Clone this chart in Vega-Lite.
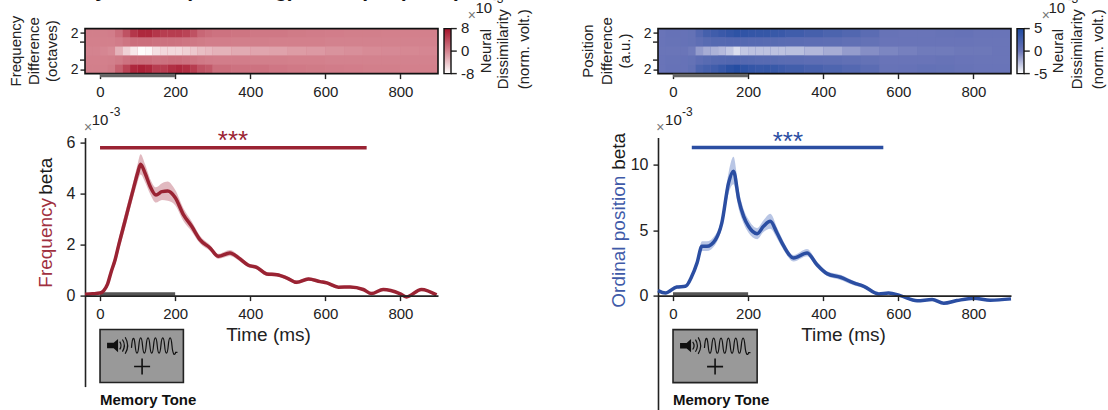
{"$schema":"https://vega.github.io/schema/vega-lite/v6.json","background":"white","padding":{"left":8,"top":-20.4,"right":0,"bottom":0},"columns":2,"spacing":{"row":64,"column":220},"bounds":"flush","resolve":{"scale":{"color":"independent","x":"independent","y":"independent"}},"config":{"font":"Liberation Sans","view":{"stroke":null},"text":{"font":"Liberation Sans"},"axis":{"grid":false,"domainColor":"#222","domainWidth":1.6,"tickColor":"#222","tickWidth":1.4,"tickSize":5,"labelColor":"#222","titleColor":"#222","labelFontSize":15,"titleFontWeight":"normal","labelFont":"Liberation Sans","titleFont":"Liberation Sans"},"legend":{"labelFont":"Liberation Sans"}},
"datasets":{
"heatL":[
{"t":-40,"u":-20,"a":1.5,"b":2.5,"v":0.3},{"t":-20,"u":0,"a":1.5,"b":2.5,"v":0.3},{"t":0,"u":20,"a":1.5,"b":2.5,"v":0.3},{"t":20,"u":40,"a":1.5,"b":2.5,"v":0.4},{"t":40,"u":60,"a":1.5,"b":2.5,"v":1.5},{"t":60,"u":80,"a":1.5,"b":2.5,"v":3.5},{"t":80,"u":100,"a":1.5,"b":2.5,"v":5.5},{"t":100,"u":120,"a":1.5,"b":2.5,"v":6.5},{"t":120,"u":140,"a":1.5,"b":2.5,"v":6.5},{"t":140,"u":160,"a":1.5,"b":2.5,"v":5.5},{"t":160,"u":180,"a":1.5,"b":2.5,"v":5},{"t":180,"u":200,"a":1.5,"b":2.5,"v":5},{"t":200,"u":220,"a":1.5,"b":2.5,"v":5},{"t":220,"u":240,"a":1.5,"b":2.5,"v":4.5},{"t":240,"u":260,"a":1.5,"b":2.5,"v":3.5},{"t":260,"u":280,"a":1.5,"b":2.5,"v":2},{"t":280,"u":300,"a":1.5,"b":2.5,"v":1.5},{"t":300,"u":350,"a":1.5,"b":2.5,"v":1.2},{"t":350,"u":400,"a":1.5,"b":2.5,"v":1},{"t":400,"u":450,"a":1.5,"b":2.5,"v":0.8},{"t":450,"u":500,"a":1.5,"b":2.5,"v":0.8},{"t":500,"u":550,"a":1.5,"b":2.5,"v":0.6},{"t":550,"u":600,"a":1.5,"b":2.5,"v":0.5},{"t":600,"u":650,"a":1.5,"b":2.5,"v":0.4},{"t":650,"u":700,"a":1.5,"b":2.5,"v":0.3},{"t":700,"u":750,"a":1.5,"b":2.5,"v":0.3},{"t":750,"u":800,"a":1.5,"b":2.5,"v":0.2},{"t":800,"u":850,"a":1.5,"b":2.5,"v":0.2},{"t":850,"u":900,"a":1.5,"b":2.5,"v":0.2},
{"t":-40,"u":-20,"a":0.5,"b":1.5,"v":0.2},{"t":-20,"u":0,"a":0.5,"b":1.5,"v":0.2},{"t":0,"u":20,"a":0.5,"b":1.5,"v":0.2},{"t":20,"u":40,"a":0.5,"b":1.5,"v":0.2},{"t":40,"u":60,"a":0.5,"b":1.5,"v":0.5},{"t":60,"u":80,"a":0.5,"b":1.5,"v":1},{"t":80,"u":100,"a":0.5,"b":1.5,"v":1.5},{"t":100,"u":120,"a":0.5,"b":1.5,"v":1.5},{"t":120,"u":140,"a":0.5,"b":1.5,"v":1.5},{"t":140,"u":160,"a":0.5,"b":1.5,"v":1.3},{"t":160,"u":180,"a":0.5,"b":1.5,"v":1.3},{"t":180,"u":200,"a":0.5,"b":1.5,"v":1.3},{"t":200,"u":220,"a":0.5,"b":1.5,"v":1.2},{"t":220,"u":240,"a":0.5,"b":1.5,"v":1},{"t":240,"u":260,"a":0.5,"b":1.5,"v":0.8},{"t":260,"u":280,"a":0.5,"b":1.5,"v":0.6},{"t":280,"u":300,"a":0.5,"b":1.5,"v":0.4},{"t":300,"u":350,"a":0.5,"b":1.5,"v":0.4},{"t":350,"u":400,"a":0.5,"b":1.5,"v":0.3},{"t":400,"u":450,"a":0.5,"b":1.5,"v":0.3},{"t":450,"u":500,"a":0.5,"b":1.5,"v":0.2},{"t":500,"u":550,"a":0.5,"b":1.5,"v":0.2},{"t":550,"u":600,"a":0.5,"b":1.5,"v":0.2},{"t":600,"u":650,"a":0.5,"b":1.5,"v":0.1},{"t":650,"u":700,"a":0.5,"b":1.5,"v":0.1},{"t":700,"u":750,"a":0.5,"b":1.5,"v":0.1},{"t":750,"u":800,"a":0.5,"b":1.5,"v":0.1},{"t":800,"u":850,"a":0.5,"b":1.5,"v":0.1},{"t":850,"u":900,"a":0.5,"b":1.5,"v":0.1},
{"t":-40,"u":-20,"a":-0.5,"b":0.5,"v":0},{"t":-20,"u":0,"a":-0.5,"b":0.5,"v":0},{"t":0,"u":20,"a":-0.5,"b":0.5,"v":-0.2},{"t":20,"u":40,"a":-0.5,"b":0.5,"v":-0.5},{"t":40,"u":60,"a":-0.5,"b":0.5,"v":-3},{"t":60,"u":80,"a":-0.5,"b":0.5,"v":-5},{"t":80,"u":100,"a":-0.5,"b":0.5,"v":-6.5},{"t":100,"u":120,"a":-0.5,"b":0.5,"v":-7.8},{"t":120,"u":140,"a":-0.5,"b":0.5,"v":-7.5},{"t":140,"u":160,"a":-0.5,"b":0.5,"v":-6},{"t":160,"u":180,"a":-0.5,"b":0.5,"v":-5.5},{"t":180,"u":200,"a":-0.5,"b":0.5,"v":-5.5},{"t":200,"u":220,"a":-0.5,"b":0.5,"v":-5.5},{"t":220,"u":240,"a":-0.5,"b":0.5,"v":-5},{"t":240,"u":260,"a":-0.5,"b":0.5,"v":-4.5},{"t":260,"u":280,"a":-0.5,"b":0.5,"v":-3.8},{"t":280,"u":300,"a":-0.5,"b":0.5,"v":-3.5},{"t":300,"u":350,"a":-0.5,"b":0.5,"v":-3},{"t":350,"u":400,"a":-0.5,"b":0.5,"v":-2.5},{"t":400,"u":450,"a":-0.5,"b":0.5,"v":-2.2},{"t":450,"u":500,"a":-0.5,"b":0.5,"v":-2},{"t":500,"u":550,"a":-0.5,"b":0.5,"v":-1.6},{"t":550,"u":600,"a":-0.5,"b":0.5,"v":-1.4},{"t":600,"u":650,"a":-0.5,"b":0.5,"v":-1},{"t":650,"u":700,"a":-0.5,"b":0.5,"v":-0.8},{"t":700,"u":750,"a":-0.5,"b":0.5,"v":-0.5},{"t":750,"u":800,"a":-0.5,"b":0.5,"v":-0.4},{"t":800,"u":850,"a":-0.5,"b":0.5,"v":-0.3},{"t":850,"u":900,"a":-0.5,"b":0.5,"v":-0.2},
{"t":-40,"u":-20,"a":-1.5,"b":-0.5,"v":0.2},{"t":-20,"u":0,"a":-1.5,"b":-0.5,"v":0.2},{"t":0,"u":20,"a":-1.5,"b":-0.5,"v":0.2},{"t":20,"u":40,"a":-1.5,"b":-0.5,"v":0.3},{"t":40,"u":60,"a":-1.5,"b":-0.5,"v":0.6},{"t":60,"u":80,"a":-1.5,"b":-0.5,"v":1.2},{"t":80,"u":100,"a":-1.5,"b":-0.5,"v":1.6},{"t":100,"u":120,"a":-1.5,"b":-0.5,"v":1.6},{"t":120,"u":140,"a":-1.5,"b":-0.5,"v":1.5},{"t":140,"u":160,"a":-1.5,"b":-0.5,"v":1.2},{"t":160,"u":180,"a":-1.5,"b":-0.5,"v":1.3},{"t":180,"u":200,"a":-1.5,"b":-0.5,"v":1.5},{"t":200,"u":220,"a":-1.5,"b":-0.5,"v":1.5},{"t":220,"u":240,"a":-1.5,"b":-0.5,"v":1.3},{"t":240,"u":260,"a":-1.5,"b":-0.5,"v":1},{"t":260,"u":280,"a":-1.5,"b":-0.5,"v":0.7},{"t":280,"u":300,"a":-1.5,"b":-0.5,"v":0.5},{"t":300,"u":350,"a":-1.5,"b":-0.5,"v":0.4},{"t":350,"u":400,"a":-1.5,"b":-0.5,"v":0.4},{"t":400,"u":450,"a":-1.5,"b":-0.5,"v":0.3},{"t":450,"u":500,"a":-1.5,"b":-0.5,"v":0.3},{"t":500,"u":550,"a":-1.5,"b":-0.5,"v":0.2},{"t":550,"u":600,"a":-1.5,"b":-0.5,"v":0.2},{"t":600,"u":650,"a":-1.5,"b":-0.5,"v":0.1},{"t":650,"u":700,"a":-1.5,"b":-0.5,"v":0.1},{"t":700,"u":750,"a":-1.5,"b":-0.5,"v":0.1},{"t":750,"u":800,"a":-1.5,"b":-0.5,"v":0.1},{"t":800,"u":850,"a":-1.5,"b":-0.5,"v":0.1},{"t":850,"u":900,"a":-1.5,"b":-0.5,"v":0.1},
{"t":-40,"u":-20,"a":-2.5,"b":-1.5,"v":0.3},{"t":-20,"u":0,"a":-2.5,"b":-1.5,"v":0.3},{"t":0,"u":20,"a":-2.5,"b":-1.5,"v":0.3},{"t":20,"u":40,"a":-2.5,"b":-1.5,"v":0.6},{"t":40,"u":60,"a":-2.5,"b":-1.5,"v":2.5},{"t":60,"u":80,"a":-2.5,"b":-1.5,"v":4.5},{"t":80,"u":100,"a":-2.5,"b":-1.5,"v":6.5},{"t":100,"u":120,"a":-2.5,"b":-1.5,"v":7},{"t":120,"u":140,"a":-2.5,"b":-1.5,"v":6.5},{"t":140,"u":160,"a":-2.5,"b":-1.5,"v":5},{"t":160,"u":180,"a":-2.5,"b":-1.5,"v":5},{"t":180,"u":200,"a":-2.5,"b":-1.5,"v":6},{"t":200,"u":220,"a":-2.5,"b":-1.5,"v":6.5},{"t":220,"u":240,"a":-2.5,"b":-1.5,"v":6},{"t":240,"u":260,"a":-2.5,"b":-1.5,"v":5},{"t":260,"u":280,"a":-2.5,"b":-1.5,"v":3.5},{"t":280,"u":300,"a":-2.5,"b":-1.5,"v":3},{"t":300,"u":350,"a":-2.5,"b":-1.5,"v":1.5},{"t":350,"u":400,"a":-2.5,"b":-1.5,"v":1.2},{"t":400,"u":450,"a":-2.5,"b":-1.5,"v":1.2},{"t":450,"u":500,"a":-2.5,"b":-1.5,"v":0.9},{"t":500,"u":550,"a":-2.5,"b":-1.5,"v":0.7},{"t":550,"u":600,"a":-2.5,"b":-1.5,"v":0.6},{"t":600,"u":650,"a":-2.5,"b":-1.5,"v":0.5},{"t":650,"u":700,"a":-2.5,"b":-1.5,"v":0.4},{"t":700,"u":750,"a":-2.5,"b":-1.5,"v":0.3},{"t":750,"u":800,"a":-2.5,"b":-1.5,"v":0.3},{"t":800,"u":850,"a":-2.5,"b":-1.5,"v":0.2},{"t":850,"u":900,"a":-2.5,"b":-1.5,"v":0.2}
],
"heatR":[
{"t":-40,"u":-20,"a":1.5,"b":2.5,"v":0.1},{"t":-20,"u":0,"a":1.5,"b":2.5,"v":0.3},{"t":0,"u":20,"a":1.5,"b":2.5,"v":0.3},{"t":20,"u":40,"a":1.5,"b":2.5,"v":0.3},{"t":40,"u":60,"a":1.5,"b":2.5,"v":0.4},{"t":60,"u":80,"a":1.5,"b":2.5,"v":1.5},{"t":80,"u":100,"a":1.5,"b":2.5,"v":2.5},{"t":100,"u":120,"a":1.5,"b":2.5,"v":2.8},{"t":120,"u":140,"a":1.5,"b":2.5,"v":3.2},{"t":140,"u":160,"a":1.5,"b":2.5,"v":3.6},{"t":160,"u":180,"a":1.5,"b":2.5,"v":4},{"t":180,"u":200,"a":1.5,"b":2.5,"v":3.8},{"t":200,"u":220,"a":1.5,"b":2.5,"v":3.6},{"t":220,"u":240,"a":1.5,"b":2.5,"v":3.5},{"t":240,"u":260,"a":1.5,"b":2.5,"v":3.5},{"t":260,"u":280,"a":1.5,"b":2.5,"v":3.3},{"t":280,"u":300,"a":1.5,"b":2.5,"v":3.2},{"t":300,"u":350,"a":1.5,"b":2.5,"v":2.8},{"t":350,"u":400,"a":1.5,"b":2.5,"v":2.4},{"t":400,"u":450,"a":1.5,"b":2.5,"v":2},{"t":450,"u":500,"a":1.5,"b":2.5,"v":1.6},{"t":500,"u":550,"a":1.5,"b":2.5,"v":1},{"t":550,"u":600,"a":1.5,"b":2.5,"v":0.2},{"t":600,"u":650,"a":1.5,"b":2.5,"v":0.1},{"t":650,"u":700,"a":1.5,"b":2.5,"v":0.1},{"t":700,"u":750,"a":1.5,"b":2.5,"v":0.2},{"t":750,"u":800,"a":1.5,"b":2.5,"v":0.3},{"t":800,"u":850,"a":1.5,"b":2.5,"v":0.1},{"t":850,"u":900,"a":1.5,"b":2.5,"v":0.1},
{"t":-40,"u":-20,"a":0.5,"b":1.5,"v":0.1},{"t":-20,"u":0,"a":0.5,"b":1.5,"v":0.2},{"t":0,"u":20,"a":0.5,"b":1.5,"v":0.2},{"t":20,"u":40,"a":0.5,"b":1.5,"v":0.3},{"t":40,"u":60,"a":0.5,"b":1.5,"v":0.4},{"t":60,"u":80,"a":0.5,"b":1.5,"v":0.8},{"t":80,"u":100,"a":0.5,"b":1.5,"v":1.2},{"t":100,"u":120,"a":0.5,"b":1.5,"v":1.4},{"t":120,"u":140,"a":0.5,"b":1.5,"v":1.4},{"t":140,"u":160,"a":0.5,"b":1.5,"v":1.5},{"t":160,"u":180,"a":0.5,"b":1.5,"v":1.5},{"t":180,"u":200,"a":0.5,"b":1.5,"v":1.4},{"t":200,"u":220,"a":0.5,"b":1.5,"v":1.3},{"t":220,"u":240,"a":0.5,"b":1.5,"v":1.3},{"t":240,"u":260,"a":0.5,"b":1.5,"v":1.2},{"t":260,"u":280,"a":0.5,"b":1.5,"v":1.2},{"t":280,"u":300,"a":0.5,"b":1.5,"v":1.1},{"t":300,"u":350,"a":0.5,"b":1.5,"v":1},{"t":350,"u":400,"a":0.5,"b":1.5,"v":0.9},{"t":400,"u":450,"a":0.5,"b":1.5,"v":0.8},{"t":450,"u":500,"a":0.5,"b":1.5,"v":0.6},{"t":500,"u":550,"a":0.5,"b":1.5,"v":0.4},{"t":550,"u":600,"a":0.5,"b":1.5,"v":0.1},{"t":600,"u":650,"a":0.5,"b":1.5,"v":0.1},{"t":650,"u":700,"a":0.5,"b":1.5,"v":0.1},{"t":700,"u":750,"a":0.5,"b":1.5,"v":0.1},{"t":750,"u":800,"a":0.5,"b":1.5,"v":0.1},{"t":800,"u":850,"a":0.5,"b":1.5,"v":0},{"t":850,"u":900,"a":0.5,"b":1.5,"v":0},
{"t":-40,"u":-20,"a":-0.5,"b":0.5,"v":0},{"t":-20,"u":0,"a":-0.5,"b":0.5,"v":0},{"t":0,"u":20,"a":-0.5,"b":0.5,"v":0},{"t":20,"u":40,"a":-0.5,"b":0.5,"v":0},{"t":40,"u":60,"a":-0.5,"b":0.5,"v":-0.2},{"t":60,"u":80,"a":-0.5,"b":0.5,"v":-1.4},{"t":80,"u":100,"a":-0.5,"b":0.5,"v":-2},{"t":100,"u":120,"a":-0.5,"b":0.5,"v":-2.2},{"t":120,"u":140,"a":-0.5,"b":0.5,"v":-2.5},{"t":140,"u":160,"a":-0.5,"b":0.5,"v":-3},{"t":160,"u":180,"a":-0.5,"b":0.5,"v":-3.8},{"t":180,"u":200,"a":-0.5,"b":0.5,"v":-3},{"t":200,"u":220,"a":-0.5,"b":0.5,"v":-2.8},{"t":220,"u":240,"a":-0.5,"b":0.5,"v":-2.8},{"t":240,"u":260,"a":-0.5,"b":0.5,"v":-2.8},{"t":260,"u":280,"a":-0.5,"b":0.5,"v":-2.8},{"t":280,"u":300,"a":-0.5,"b":0.5,"v":-2.8},{"t":300,"u":350,"a":-0.5,"b":0.5,"v":-2.7},{"t":350,"u":400,"a":-0.5,"b":0.5,"v":-2.4},{"t":400,"u":450,"a":-0.5,"b":0.5,"v":-2},{"t":450,"u":500,"a":-0.5,"b":0.5,"v":-1.4},{"t":500,"u":550,"a":-0.5,"b":0.5,"v":-0.9},{"t":550,"u":600,"a":-0.5,"b":0.5,"v":-0.6},{"t":600,"u":650,"a":-0.5,"b":0.5,"v":-0.4},{"t":650,"u":700,"a":-0.5,"b":0.5,"v":-0.2},{"t":700,"u":750,"a":-0.5,"b":0.5,"v":-0.2},{"t":750,"u":800,"a":-0.5,"b":0.5,"v":-0.1},{"t":800,"u":850,"a":-0.5,"b":0.5,"v":-0.1},{"t":850,"u":900,"a":-0.5,"b":0.5,"v":0},
{"t":-40,"u":-20,"a":-1.5,"b":-0.5,"v":0.1},{"t":-20,"u":0,"a":-1.5,"b":-0.5,"v":0.2},{"t":0,"u":20,"a":-1.5,"b":-0.5,"v":0.2},{"t":20,"u":40,"a":-1.5,"b":-0.5,"v":0.3},{"t":40,"u":60,"a":-1.5,"b":-0.5,"v":0.4},{"t":60,"u":80,"a":-1.5,"b":-0.5,"v":0.9},{"t":80,"u":100,"a":-1.5,"b":-0.5,"v":1.2},{"t":100,"u":120,"a":-1.5,"b":-0.5,"v":1.4},{"t":120,"u":140,"a":-1.5,"b":-0.5,"v":1.5},{"t":140,"u":160,"a":-1.5,"b":-0.5,"v":1.6},{"t":160,"u":180,"a":-1.5,"b":-0.5,"v":1.7},{"t":180,"u":200,"a":-1.5,"b":-0.5,"v":1.5},{"t":200,"u":220,"a":-1.5,"b":-0.5,"v":1.4},{"t":220,"u":240,"a":-1.5,"b":-0.5,"v":1.3},{"t":240,"u":260,"a":-1.5,"b":-0.5,"v":1.3},{"t":260,"u":280,"a":-1.5,"b":-0.5,"v":1.2},{"t":280,"u":300,"a":-1.5,"b":-0.5,"v":1.1},{"t":300,"u":350,"a":-1.5,"b":-0.5,"v":1},{"t":350,"u":400,"a":-1.5,"b":-0.5,"v":0.9},{"t":400,"u":450,"a":-1.5,"b":-0.5,"v":0.8},{"t":450,"u":500,"a":-1.5,"b":-0.5,"v":0.6},{"t":500,"u":550,"a":-1.5,"b":-0.5,"v":0.4},{"t":550,"u":600,"a":-1.5,"b":-0.5,"v":0.1},{"t":600,"u":650,"a":-1.5,"b":-0.5,"v":0.1},{"t":650,"u":700,"a":-1.5,"b":-0.5,"v":0.1},{"t":700,"u":750,"a":-1.5,"b":-0.5,"v":0.2},{"t":750,"u":800,"a":-1.5,"b":-0.5,"v":0.1},{"t":800,"u":850,"a":-1.5,"b":-0.5,"v":0},{"t":850,"u":900,"a":-1.5,"b":-0.5,"v":0},
{"t":-40,"u":-20,"a":-2.5,"b":-1.5,"v":0.1},{"t":-20,"u":0,"a":-2.5,"b":-1.5,"v":0.3},{"t":0,"u":20,"a":-2.5,"b":-1.5,"v":0.3},{"t":20,"u":40,"a":-2.5,"b":-1.5,"v":0.3},{"t":40,"u":60,"a":-2.5,"b":-1.5,"v":0.6},{"t":60,"u":80,"a":-2.5,"b":-1.5,"v":2},{"t":80,"u":100,"a":-2.5,"b":-1.5,"v":2.5},{"t":100,"u":120,"a":-2.5,"b":-1.5,"v":2.8},{"t":120,"u":140,"a":-2.5,"b":-1.5,"v":3.4},{"t":140,"u":160,"a":-2.5,"b":-1.5,"v":4.2},{"t":160,"u":180,"a":-2.5,"b":-1.5,"v":4.6},{"t":180,"u":200,"a":-2.5,"b":-1.5,"v":4},{"t":200,"u":220,"a":-2.5,"b":-1.5,"v":3.6},{"t":220,"u":240,"a":-2.5,"b":-1.5,"v":3.4},{"t":240,"u":260,"a":-2.5,"b":-1.5,"v":3.5},{"t":260,"u":280,"a":-2.5,"b":-1.5,"v":3.3},{"t":280,"u":300,"a":-2.5,"b":-1.5,"v":3},{"t":300,"u":350,"a":-2.5,"b":-1.5,"v":2.7},{"t":350,"u":400,"a":-2.5,"b":-1.5,"v":2.3},{"t":400,"u":450,"a":-2.5,"b":-1.5,"v":1.9},{"t":450,"u":500,"a":-2.5,"b":-1.5,"v":1.5},{"t":500,"u":550,"a":-2.5,"b":-1.5,"v":1},{"t":550,"u":600,"a":-2.5,"b":-1.5,"v":0.2},{"t":600,"u":650,"a":-2.5,"b":-1.5,"v":0.3},{"t":650,"u":700,"a":-2.5,"b":-1.5,"v":0.5},{"t":700,"u":750,"a":-2.5,"b":-1.5,"v":0.4},{"t":750,"u":800,"a":-2.5,"b":-1.5,"v":0.2},{"t":800,"u":850,"a":-2.5,"b":-1.5,"v":0.1},{"t":850,"u":900,"a":-2.5,"b":-1.5,"v":0.1}
],
"lineL":[
{"t":-40,"v":0.05,"l":0.02,"h":0.08},{"t":-20,"v":0.07,"l":0.04,"h":0.1},{"t":0,"v":0.1,"l":0.05,"h":0.15},{"t":10,"v":0.2,"l":0.13,"h":0.27},{"t":20,"v":0.45,"l":0.35,"h":0.55},{"t":30,"v":0.95,"l":0.8,"h":1.1},{"t":40,"v":1.4,"l":1.2,"h":1.6},{"t":50,"v":2.0,"l":1.75,"h":2.25},{"t":66,"v":2.9,"l":2.6,"h":3.2},{"t":89,"v":4.2,"l":3.9,"h":4.5},{"t":100,"v":4.8,"l":4.45,"h":5.15},{"t":108,"v":5.15,"l":4.75,"h":5.55},{"t":120,"v":4.8,"l":4.45,"h":5.15},{"t":133,"v":4.3,"l":4.0,"h":4.6},{"t":149,"v":3.95,"l":3.65,"h":4.25},{"t":165,"v":4.08,"l":3.75,"h":4.41},{"t":180,"v":4.1,"l":3.72,"h":4.48},{"t":200,"v":3.85,"l":3.55,"h":4.15},{"t":222,"v":3.18,"l":2.93,"h":3.43},{"t":244,"v":2.72,"l":2.52,"h":2.92},{"t":266,"v":2.2,"l":2.05,"h":2.35},{"t":293,"v":1.87,"l":1.75,"h":1.99},{"t":315,"v":1.54,"l":1.44,"h":1.64},{"t":346,"v":1.67,"l":1.55,"h":1.79},{"t":369,"v":1.48,"l":1.38,"h":1.58},{"t":395,"v":1.19,"l":1.11,"h":1.27},{"t":417,"v":1.11,"l":1.03,"h":1.19},{"t":444,"v":0.85,"l":0.77,"h":0.93},{"t":471,"v":0.82,"l":0.75,"h":0.89},{"t":498,"v":0.69,"l":0.62,"h":0.76},{"t":524,"v":0.52,"l":0.45,"h":0.59},{"t":555,"v":0.65,"l":0.58,"h":0.72},{"t":586,"v":0.55,"l":0.49,"h":0.61},{"t":604,"v":0.5,"l":0.44,"h":0.56},{"t":635,"v":0.33,"l":0.28,"h":0.38},{"t":666,"v":0.34,"l":0.29,"h":0.39},{"t":701,"v":0.24,"l":0.19,"h":0.29},{"t":723,"v":0.08,"l":0.04,"h":0.12},{"t":754,"v":0.24,"l":0.2,"h":0.28},{"t":798,"v":0.08,"l":0.04,"h":0.12},{"t":816,"v":-0.05,"l":-0.09,"h":-0.01},{"t":856,"v":0.24,"l":0.2,"h":0.28},{"t":896,"v":0.03,"l":-0.01,"h":0.07}
],
"lineR":[
{"t":-40,"v":0.38,"l":0.3,"h":0.46},{"t":-20,"v":0.2,"l":0.12,"h":0.28},{"t":10,"v":0.66,"l":0.56,"h":0.76},{"t":33,"v":0.71,"l":0.6,"h":0.82},{"t":50,"v":1.47,"l":1.3,"h":1.64},{"t":64,"v":2.5,"l":2.25,"h":2.75},{"t":77,"v":3.77,"l":3.4,"h":4.14},{"t":90,"v":3.77,"l":3.4,"h":4.14},{"t":113,"v":4.27,"l":3.9,"h":4.64},{"t":130,"v":5.55,"l":5.15,"h":5.95},{"t":148,"v":8.6,"l":7.8,"h":9.4},{"t":161,"v":9.5,"l":8.5,"h":10.6},{"t":175,"v":7.33,"l":6.6,"h":8.05},{"t":188,"v":6.05,"l":5.5,"h":6.6},{"t":201,"v":5.29,"l":4.8,"h":5.8},{"t":224,"v":4.73,"l":4.3,"h":5.15},{"t":241,"v":5.29,"l":4.85,"h":5.75},{"t":259,"v":5.67,"l":5.1,"h":6.25},{"t":277,"v":4.78,"l":4.35,"h":5.2},{"t":295,"v":3.77,"l":3.45,"h":4.1},{"t":321,"v":2.87,"l":2.6,"h":3.1},{"t":357,"v":3.25,"l":3.0,"h":3.55},{"t":383,"v":2.37,"l":2.15,"h":2.6},{"t":410,"v":1.68,"l":1.5,"h":1.86},{"t":446,"v":1.4,"l":1.2,"h":1.6},{"t":481,"v":0.97,"l":0.8,"h":1.14},{"t":508,"v":0.71,"l":0.58,"h":0.84},{"t":548,"v":0.13,"l":0.03,"h":0.23},{"t":574,"v":0.2,"l":0.1,"h":0.3},{"t":605,"v":0,"l":-0.08,"h":0.08},{"t":650,"v":-0.4,"l":-0.48,"h":-0.32},{"t":690,"v":-0.3,"l":-0.38,"h":-0.22},{"t":721,"v":-0.58,"l":-0.66,"h":-0.5},{"t":756,"v":-0.38,"l":-0.46,"h":-0.3},{"t":801,"v":-0.2,"l":-0.28,"h":-0.12},{"t":845,"v":-0.35,"l":-0.43,"h":-0.27},{"t":900,"v":-0.25,"l":-0.33,"h":-0.17}
]
},
"concat":[
{"width":353,"height":45,"layer":[
{"data":{"values":[{"t":-40,"u":900,"a":-2.5,"b":2.5}]},"mark":{"type":"rect","fill":"#d4838f"},"encoding":{"x":{"field":"t","type":"quantitative","scale":{"domain":[-40,900],"nice":false,"zero":false},"axis":{"values":[0,100,200,300,400,500,600,700,800,900],"labelExpr":"datum.value%200==0?datum.label:''","title":null,"labelPadding":6,"domain":false}},"x2":{"field":"u"},"y":{"field":"a","type":"quantitative","scale":{"domain":[-2.5,2.5],"nice":false,"zero":false},"axis":{"values":[-2,0,2],"labelExpr":"abs(datum.value)==2?'2':'0'","labelOverlap":false,"labelFontSize":14,"title":["Frequency","Difference","(octaves)"],"titleFontSize":15,"titleLineHeight":18.5,"titleX":-62,"titleY":22,"domain":false,"grid":false}},"y2":{"field":"b"}}},
{"data":{"name":"heatL"},"mark":{"type":"rect"},"encoding":{"x":{"field":"t","type":"quantitative"},"x2":{"field":"u"},"y":{"field":"a","type":"quantitative"},"y2":{"field":"b"},"color":{"field":"v","type":"quantitative","scale":{"domain":[-8,0,8],"range":["#ffffff","#d4838f","#a5132a"],"interpolate":"rgb"},"legend":{"type":"gradient","orient":"none","legendX":359,"legendY":0,"title":null,"values":[],"gradientLength":45,"gradientThickness":7,"gradientStrokeColor":"#111","gradientStrokeWidth":1.4,"padding":0}}}},
{"data":{"values":[{"t":-40,"u":900,"a":-2.5,"b":2.5}]},"mark":{"type":"rect","filled":false,"stroke":"#111","strokeWidth":1.6},"encoding":{"x":{"field":"t","type":"quantitative"},"x2":{"field":"u"},"y":{"field":"a","type":"quantitative"},"y2":{"field":"b"}}},
{"data":{"values":[{"t":0,"u":200,"a":-2.72}]},"mark":{"type":"rule","stroke":"#666","strokeWidth":3.5},"encoding":{"x":{"field":"t","type":"quantitative"},"x2":{"field":"u"},"y":{"field":"a","type":"quantitative"}}},
{"data":{"values":[{"t":-53.3,"u":-40,"a":1},{"t":-53.3,"u":-40,"a":-1}]},"mark":{"type":"rule","stroke":"#222","strokeWidth":1.4},"encoding":{"x":{"field":"t","type":"quantitative"},"x2":{"field":"u"},"y":{"field":"a","type":"quantitative"}}},
{"data":{"values":[{"t":934,"u":950,"a":2.5},{"t":934,"u":950,"a":0},{"t":934,"u":950,"a":-2.5}]},"mark":{"type":"rule","stroke":"#222","strokeWidth":1.4},"encoding":{"x":{"field":"t","type":"quantitative"},"x2":{"field":"u"},"y":{"field":"a","type":"quantitative"}}},
{"data":{"values":[{"t":961,"a":2.6,"s":"8"},{"t":961,"a":0,"s":"0"},{"t":961,"a":-2.5,"s":"-8"}]},"mark":{"type":"text","align":"left","baseline":"middle","fontSize":15,"fill":"#222"},"encoding":{"x":{"field":"t","type":"quantitative"},"y":{"field":"a","type":"quantitative"},"text":{"field":"s"}}},
{"data":{"values":[{"t":1028,"a":0,"s":"Neural"},{"t":1073,"a":0.2,"s":"Dissimilarity"},{"t":1129,"a":0.2,"s":"(norm. volt.)"}]},"mark":{"type":"text","angle":270,"align":"center","baseline":"middle","fontSize":15,"fill":"#222"},"encoding":{"x":{"field":"t","type":"quantitative"},"y":{"field":"a","type":"quantitative"},"text":{"field":"s"}}},
{"data":{"values":[{"t":990,"a":3.9,"s":"×"}]},"mark":{"type":"text","fontSize":14,"fill":"#777"},"encoding":{"x":{"field":"t","type":"quantitative"},"y":{"field":"a","type":"quantitative"},"text":{"field":"s"}}},
{"data":{"values":[{"t":1022,"a":4.78,"s":"10"}]},"mark":{"type":"text","fontSize":15,"fill":"#222"},"encoding":{"x":{"field":"t","type":"quantitative"},"y":{"field":"a","type":"quantitative"},"text":{"field":"s"}}},
{"data":{"values":[{"t":1060,"a":5.8,"s":"-3"}]},"mark":{"type":"text","fontSize":12,"fill":"#222"},"encoding":{"x":{"field":"t","type":"quantitative"},"y":{"field":"a","type":"quantitative"},"text":{"field":"s"}}},
{"data":{"values":[{"t":-53,"a":6.0,"s":"Dynamics (Encoding), Example (Tone)"}]},"mark":{"type":"text","fontSize":21,"fontWeight":"bold","align":"left","baseline":"alphabetic","fill":"#111"},"encoding":{"x":{"field":"t","type":"quantitative"},"y":{"field":"a","type":"quantitative"},"text":{"field":"s"}}}
]},
{"width":353,"height":45,"layer":[
{"data":{"values":[{"t":-40,"u":900,"a":-2.5,"b":2.5}]},"mark":{"type":"rect","fill":"#6a75b8"},"encoding":{"x":{"field":"t","type":"quantitative","scale":{"domain":[-40,900],"nice":false,"zero":false},"axis":{"values":[0,100,200,300,400,500,600,700,800,900],"labelExpr":"datum.value%200==0?datum.label:''","title":null,"labelPadding":6,"domain":false}},"x2":{"field":"u"},"y":{"field":"a","type":"quantitative","scale":{"domain":[-2.5,2.5],"nice":false,"zero":false},"axis":{"values":[-2,0,2],"labelExpr":"abs(datum.value)==2?'2':'0'","labelOverlap":false,"labelFontSize":14,"title":["Position","Difference","(a.u.)"],"titleFontSize":15,"titleLineHeight":18.5,"titleX":-62,"titleY":22,"domain":false,"grid":false}},"y2":{"field":"b"}}},
{"data":{"name":"heatR"},"mark":{"type":"rect"},"encoding":{"x":{"field":"t","type":"quantitative"},"x2":{"field":"u"},"y":{"field":"a","type":"quantitative"},"y2":{"field":"b"},"color":{"field":"v","type":"quantitative","scale":{"domain":[-5,0,5],"range":["#ffffff","#6a75b8","#1f4aa0"],"interpolate":"rgb"},"legend":{"type":"gradient","orient":"none","legendX":359,"legendY":0,"title":null,"values":[],"gradientLength":45,"gradientThickness":7,"gradientStrokeColor":"#111","gradientStrokeWidth":1.4,"padding":0}}}},
{"data":{"values":[{"t":-40,"u":900,"a":-2.5,"b":2.5}]},"mark":{"type":"rect","filled":false,"stroke":"#111","strokeWidth":1.6},"encoding":{"x":{"field":"t","type":"quantitative"},"x2":{"field":"u"},"y":{"field":"a","type":"quantitative"},"y2":{"field":"b"}}},
{"data":{"values":[{"t":0,"u":200,"a":-2.72}]},"mark":{"type":"rule","stroke":"#666","strokeWidth":3.5},"encoding":{"x":{"field":"t","type":"quantitative"},"x2":{"field":"u"},"y":{"field":"a","type":"quantitative"}}},
{"data":{"values":[{"t":-53.3,"u":-40,"a":1},{"t":-53.3,"u":-40,"a":-1}]},"mark":{"type":"rule","stroke":"#222","strokeWidth":1.4},"encoding":{"x":{"field":"t","type":"quantitative"},"x2":{"field":"u"},"y":{"field":"a","type":"quantitative"}}},
{"data":{"values":[{"t":934,"u":950,"a":2.5},{"t":934,"u":950,"a":0},{"t":934,"u":950,"a":-2.5}]},"mark":{"type":"rule","stroke":"#222","strokeWidth":1.4},"encoding":{"x":{"field":"t","type":"quantitative"},"x2":{"field":"u"},"y":{"field":"a","type":"quantitative"}}},
{"data":{"values":[{"t":961,"a":2.6,"s":"5"},{"t":961,"a":0,"s":"0"},{"t":961,"a":-2.5,"s":"-5"}]},"mark":{"type":"text","align":"left","baseline":"middle","fontSize":15,"fill":"#222"},"encoding":{"x":{"field":"t","type":"quantitative"},"y":{"field":"a","type":"quantitative"},"text":{"field":"s"}}},
{"data":{"values":[{"t":1025,"a":0,"s":"Neural"},{"t":1076,"a":0.2,"s":"Dissimilarity"},{"t":1132,"a":0.2,"s":"(norm. volt.)"}]},"mark":{"type":"text","angle":270,"align":"center","baseline":"middle","fontSize":15,"fill":"#222"},"encoding":{"x":{"field":"t","type":"quantitative"},"y":{"field":"a","type":"quantitative"},"text":{"field":"s"}}},
{"data":{"values":[{"t":993,"a":3.9,"s":"×"}]},"mark":{"type":"text","fontSize":14,"fill":"#777"},"encoding":{"x":{"field":"t","type":"quantitative"},"y":{"field":"a","type":"quantitative"},"text":{"field":"s"}}},
{"data":{"values":[{"t":1022,"a":4.78,"s":"10"}]},"mark":{"type":"text","fontSize":15,"fill":"#222"},"encoding":{"x":{"field":"t","type":"quantitative"},"y":{"field":"a","type":"quantitative"},"text":{"field":"s"}}},
{"data":{"values":[{"t":1065,"a":5.8,"s":"-3"}]},"mark":{"type":"text","fontSize":12,"fill":"#222"},"encoding":{"x":{"field":"t","type":"quantitative"},"y":{"field":"a","type":"quantitative"},"text":{"field":"s"}}}
]},
{"width":353,"height":249,"layer":[
{"data":{"values":[{"t":0,"u":222,"a":-1.33,"b":-3.41}]},"mark":{"type":"rect","fill":"#999999","stroke":"#222","strokeWidth":1.6},"encoding":{"x":{"field":"t","type":"quantitative","scale":{"domain":[-40,900],"nice":false,"zero":false},"axis":{"values":[0,100,200,300,400,500,600,700,800,900],"labelExpr":"datum.value%200==0?datum.label:''","title":"Time (ms)","titleFontSize":19,"titleX":183,"titlePadding":4,"labelPadding":6,"offset":-91,"zindex":1}},"x2":{"field":"u"},"y":{"field":"a","type":"quantitative","scale":{"domain":[-3.57,6.2],"nice":false,"zero":false},"axis":{"values":[0,2,4,6],"title":null,"labelPadding":5,"labelFontSize":16}},"y2":{"field":"b"}}},
{"data":{"name":"lineL"},"mark":{"type":"area","fill":"#c9808c","opacity":0.55,"interpolate":"monotone"},"encoding":{"x":{"field":"t","type":"quantitative"},"y":{"field":"l","type":"quantitative"},"y2":{"field":"h"}}},
{"data":{"values":[{"t":0,"u":200,"a":0.06}]},"mark":{"type":"rule","stroke":"#555","strokeWidth":3.5},"encoding":{"x":{"field":"t","type":"quantitative"},"x2":{"field":"u"},"y":{"field":"a","type":"quantitative"}}},
{"data":{"name":"lineL"},"mark":{"type":"line","stroke":"#9a2333","strokeWidth":3.5,"interpolate":"monotone"},"encoding":{"x":{"field":"t","type":"quantitative"},"y":{"field":"v","type":"quantitative"}}},
{"data":{"values":[{"t":0,"u":710,"a":5.8}]},"mark":{"type":"rule","stroke":"#9a2333","strokeWidth":3.5},"encoding":{"x":{"field":"t","type":"quantitative"},"x2":{"field":"u"},"y":{"field":"a","type":"quantitative"}}},
{"data":{"values":[{"t":354,"a":6.05,"s":"***"}]},"mark":{"type":"text","fontSize":26,"fill":"#9a2333"},"encoding":{"x":{"field":"t","type":"quantitative"},"y":{"field":"a","type":"quantitative"},"text":{"field":"s"}}},
{"data":{"values":[{"t":-144,"a":0.31,"s":"Frequency"}]},"mark":{"type":"text","angle":270,"align":"left","baseline":"middle","fontSize":19,"fill":"#a03040"},"encoding":{"x":{"field":"t","type":"quantitative"},"y":{"field":"a","type":"quantitative"},"text":{"field":"s"}}},
{"data":{"values":[{"t":-144,"a":3.96,"s":"beta"}]},"mark":{"type":"text","angle":270,"align":"left","baseline":"middle","fontSize":19,"fill":"#1a1a1a"},"encoding":{"x":{"field":"t","type":"quantitative"},"y":{"field":"a","type":"quantitative"},"text":{"field":"s"}}},
{"data":{"values":[{"t":-32,"a":6.59,"s":"×"}]},"mark":{"type":"text","fontSize":14,"fill":"#777"},"encoding":{"x":{"field":"t","type":"quantitative"},"y":{"field":"a","type":"quantitative"},"text":{"field":"s"}}},
{"data":{"values":[{"t":0,"a":6.9,"s":"10"}]},"mark":{"type":"text","fontSize":15,"fill":"#222"},"encoding":{"x":{"field":"t","type":"quantitative"},"y":{"field":"a","type":"quantitative"},"text":{"field":"s"}}},
{"data":{"values":[{"t":40,"a":7.2,"s":"-3"}]},"mark":{"type":"text","fontSize":12,"fill":"#222"},"encoding":{"x":{"field":"t","type":"quantitative"},"y":{"field":"a","type":"quantitative"},"text":{"field":"s"}}},
{"data":{"values":[{"t":0,"a":-4.08,"s":"Memory Tone"}]},"mark":{"type":"text","align":"left","fontSize":15,"fontWeight":"bold","fill":"#111"},"encoding":{"x":{"field":"t","type":"quantitative"},"y":{"field":"a","type":"quantitative"},"text":{"field":"s"}}},
{"data":{"values":[{"t":48,"a":-1.96}]},"mark":{"type":"point","filled":true,"fill":"#111","stroke":null,"opacity":1,"size":484,"shape":"M-1,-.25 L-.4,-.25 L0,-.6 L0,.6 L-.4,.25 L-1,.25 Z"},"encoding":{"x":{"field":"t","type":"quantitative"},"y":{"field":"a","type":"quantitative"}}},
{"data":{"values":[{"t":48,"a":-1.96}]},"mark":{"type":"point","filled":false,"stroke":"#111","opacity":1,"strokeWidth":1.2,"size":484,"shape":"M.15,-.35 Q.4,0 .15,.35 M.4,-.55 Q.75,0 .4,.55 M.65,-.75 Q1.1,0 .65,.75"},"encoding":{"x":{"field":"t","type":"quantitative"},"y":{"field":"a","type":"quantitative"}}},
{"data":{"values":[{"t":145,"a":-1.96}]},"mark":{"type":"point","filled":false,"stroke":"#111","opacity":1,"strokeWidth":1.2,"size":2116,"shape":"M-1,.1 C-.96,-.44 -.88,-.44 -.84,0 C-.8,.44 -.72,.44 -.68,0 C-.64,-.44 -.56,-.44 -.52,0 C-.48,.44 -.4,.44 -.36,0 C-.32,-.44 -.24,-.44 -.2,0 C-.16,.44 -.08,.44 -.04,0 C0,-.44 .08,-.44 .12,0 C.16,.44 .24,.44 .28,0 C.32,-.44 .4,-.44 .44,0 C.48,.44 .56,.44 .6,0 C.64,-.44 .72,-.44 .76,0 C.8,.44 .88,.44 .92,.3 L1,.3"},"encoding":{"x":{"field":"t","type":"quantitative"},"y":{"field":"a","type":"quantitative"}}},
{"data":{"values":[{"t":112,"a":-2.78}]},"mark":{"type":"point","filled":false,"stroke":"#111","opacity":1,"strokeWidth":1.6,"size":256,"shape":"M-1,0 L1,0 M0,-1 L0,1"},"encoding":{"x":{"field":"t","type":"quantitative"},"y":{"field":"a","type":"quantitative"}}}
]},
{"width":353,"height":272,"layer":[
{"data":{"values":[{"t":0,"u":224,"a":-2.6,"b":-6.64}]},"mark":{"type":"rect","fill":"#999999","stroke":"#222","strokeWidth":1.6},"encoding":{"x":{"field":"t","type":"quantitative","scale":{"domain":[-40,900],"nice":false,"zero":false},"axis":{"values":[0,100,200,300,400,500,600,700,800,900],"labelExpr":"datum.value%200==0?datum.label:''","title":"Time (ms)","titleFontSize":19,"titleX":185,"titlePadding":4,"labelPadding":6,"offset":-114,"zindex":1}},"x2":{"field":"u"},"y":{"field":"a","type":"quantitative","scale":{"domain":[-8.7,12.06],"nice":false,"zero":false},"axis":{"values":[0,5,10],"title":null,"labelPadding":5,"labelFontSize":16}},"y2":{"field":"b"}}},
{"data":{"name":"lineR"},"mark":{"type":"area","fill":"#7f97cf","opacity":0.55,"interpolate":"monotone"},"encoding":{"x":{"field":"t","type":"quantitative"},"y":{"field":"l","type":"quantitative"},"y2":{"field":"h"}}},
{"data":{"values":[{"t":0,"u":200,"a":0.12}]},"mark":{"type":"rule","stroke":"#555","strokeWidth":3.5},"encoding":{"x":{"field":"t","type":"quantitative"},"x2":{"field":"u"},"y":{"field":"a","type":"quantitative"}}},
{"data":{"name":"lineR"},"mark":{"type":"line","stroke":"#2b4ea2","strokeWidth":3.5,"interpolate":"monotone"},"encoding":{"x":{"field":"t","type":"quantitative"},"y":{"field":"v","type":"quantitative"}}},
{"data":{"values":[{"t":50,"u":560,"a":11.3}]},"mark":{"type":"rule","stroke":"#2b4ea2","strokeWidth":3.5},"encoding":{"x":{"field":"t","type":"quantitative"},"x2":{"field":"u"},"y":{"field":"a","type":"quantitative"}}},
{"data":{"values":[{"t":306,"a":11.75,"s":"***"}]},"mark":{"type":"text","fontSize":26,"fill":"#2b4ea2"},"encoding":{"x":{"field":"t","type":"quantitative"},"y":{"field":"a","type":"quantitative"},"text":{"field":"s"}}},
{"data":{"values":[{"t":-143,"a":-0.92,"s":"Ordinal position"}]},"mark":{"type":"text","angle":270,"align":"left","baseline":"middle","fontSize":19,"fill":"#3f5aa8"},"encoding":{"x":{"field":"t","type":"quantitative"},"y":{"field":"a","type":"quantitative"},"text":{"field":"s"}}},
{"data":{"values":[{"t":-143,"a":9.6,"s":"beta"}]},"mark":{"type":"text","angle":270,"align":"left","baseline":"middle","fontSize":19,"fill":"#1a1a1a"},"encoding":{"x":{"field":"t","type":"quantitative"},"y":{"field":"a","type":"quantitative"},"text":{"field":"s"}}},
{"data":{"values":[{"t":-34,"a":12.8,"s":"×"}]},"mark":{"type":"text","fontSize":14,"fill":"#777"},"encoding":{"x":{"field":"t","type":"quantitative"},"y":{"field":"a","type":"quantitative"},"text":{"field":"s"}}},
{"data":{"values":[{"t":1,"a":13.4,"s":"10"}]},"mark":{"type":"text","fontSize":15,"fill":"#222"},"encoding":{"x":{"field":"t","type":"quantitative"},"y":{"field":"a","type":"quantitative"},"text":{"field":"s"}}},
{"data":{"values":[{"t":38,"a":14,"s":"-3"}]},"mark":{"type":"text","fontSize":12,"fill":"#222"},"encoding":{"x":{"field":"t","type":"quantitative"},"y":{"field":"a","type":"quantitative"},"text":{"field":"s"}}},
{"data":{"values":[{"t":0,"a":-7.94,"s":"Memory Tone"}]},"mark":{"type":"text","align":"left","fontSize":15,"fontWeight":"bold","fill":"#111"},"encoding":{"x":{"field":"t","type":"quantitative"},"y":{"field":"a","type":"quantitative"},"text":{"field":"s"}}},
{"data":{"values":[{"t":48,"a":-3.82}]},"mark":{"type":"point","filled":true,"fill":"#111","stroke":null,"opacity":1,"size":484,"shape":"M-1,-.25 L-.4,-.25 L0,-.6 L0,.6 L-.4,.25 L-1,.25 Z"},"encoding":{"x":{"field":"t","type":"quantitative"},"y":{"field":"a","type":"quantitative"}}},
{"data":{"values":[{"t":48,"a":-3.82}]},"mark":{"type":"point","filled":false,"stroke":"#111","opacity":1,"strokeWidth":1.2,"size":484,"shape":"M.15,-.35 Q.4,0 .15,.35 M.4,-.55 Q.75,0 .4,.55 M.65,-.75 Q1.1,0 .65,.75"},"encoding":{"x":{"field":"t","type":"quantitative"},"y":{"field":"a","type":"quantitative"}}},
{"data":{"values":[{"t":145,"a":-3.82}]},"mark":{"type":"point","filled":false,"stroke":"#111","opacity":1,"strokeWidth":1.2,"size":2116,"shape":"M-1,.1 C-.96,-.44 -.88,-.44 -.84,0 C-.8,.44 -.72,.44 -.68,0 C-.64,-.44 -.56,-.44 -.52,0 C-.48,.44 -.4,.44 -.36,0 C-.32,-.44 -.24,-.44 -.2,0 C-.16,.44 -.08,.44 -.04,0 C0,-.44 .08,-.44 .12,0 C.16,.44 .24,.44 .28,0 C.32,-.44 .4,-.44 .44,0 C.48,.44 .56,.44 .6,0 C.64,-.44 .72,-.44 .76,0 C.8,.44 .88,.44 .92,.3 L1,.3"},"encoding":{"x":{"field":"t","type":"quantitative"},"y":{"field":"a","type":"quantitative"}}},
{"data":{"values":[{"t":112,"a":-5.42}]},"mark":{"type":"point","filled":false,"stroke":"#111","opacity":1,"strokeWidth":1.6,"size":256,"shape":"M-1,0 L1,0 M0,-1 L0,1"},"encoding":{"x":{"field":"t","type":"quantitative"},"y":{"field":"a","type":"quantitative"}}}
]}
]}
